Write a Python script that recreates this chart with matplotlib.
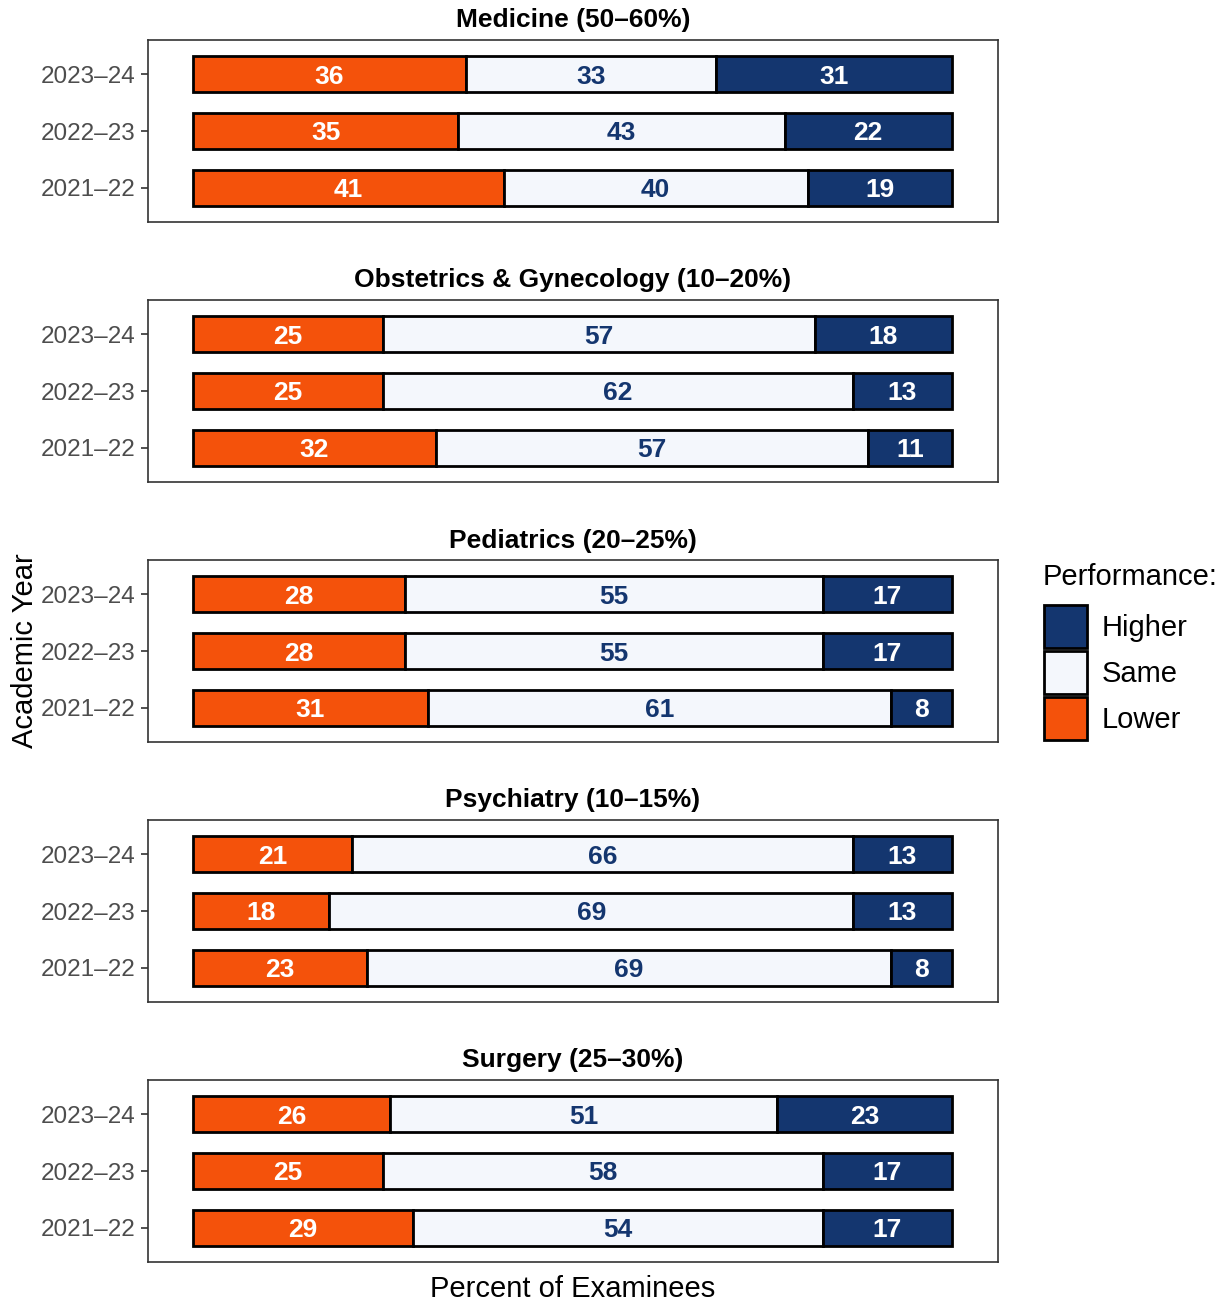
import matplotlib
matplotlib.use("Agg")
import matplotlib.pyplot as plt
from matplotlib.patches import Rectangle

plt.rcParams['font.family'] = ['Liberation Sans', 'DejaVu Sans']

years = ["2021–22", "2022–23", "2023–24"]
panels = ["Medicine (50–60%)", "Obstetrics & Gynecology (10–20%)",
          "Pediatrics (20–25%)", "Psychiatry (10–15%)", "Surgery (25–30%)"]

# values per panel, ordered 2021-22, 2022-23, 2023-24
lower = [[41, 35, 36], [32, 25, 25], [31, 28, 28], [23, 18, 21], [29, 25, 26]]
same = [[40, 43, 33], [57, 62, 57], [61, 55, 55], [69, 69, 66], [54, 58, 51]]
higher = [[19, 22, 31], [11, 13, 18], [8, 17, 17], [8, 13, 13], [17, 17, 23]]

c_low = "#F4520B"
c_same = "#F4F7FC"
c_high = "#14366F"

W, H = 1225, 1302
fig = plt.figure(figsize=(W / 100, H / 100), dpi=100)

for i, title in enumerate(panels):
    top = 40 + 260 * i
    ax = fig.add_axes([148 / W, 1 - (top + 182) / H, 850 / W, 182 / H])
    y = range(1, len(years) + 1)
    lo, sa, hi = lower[i], same[i], higher[i]
    left_sa = lo
    left_hi = [a + b for a, b in zip(lo, sa)]
    kw = dict(height=0.63, edgecolor="black", linewidth=2)
    ax.barh(y, lo, color=c_low, **kw)
    ax.barh(y, sa, left=left_sa, color=c_same, **kw)
    ax.barh(y, hi, left=left_hi, color=c_high, **kw)
    tk = dict(ha="center", va="center_baseline", fontsize=19, fontweight="bold")
    for k in range(len(years)):
        ax.text(lo[k] / 2, k + 1, str(lo[k]), color="white", **tk)
        ax.text(lo[k] + sa[k] / 2, k + 1, str(sa[k]), color=c_high, **tk)
        ax.text(left_hi[k] + hi[k] / 2, k + 1, str(hi[k]), color="white", **tk)
    ax.set_xlim(-5.9, 106.1)
    ax.set_ylim(0.4, 3.6)
    ax.set_yticks(list(y))
    ax.set_yticklabels(years, fontsize=17.5, color="#4d4d4d")
    ax.set_xticks([])
    ax.tick_params(axis="y", length=5, width=1.2, color="#333333", pad=4)
    for s in ax.spines.values():
        s.set_color("#333333")
        s.set_linewidth(1.2)
    ax.set_title(title, fontsize=19, fontweight="bold", color="black", pad=9)

fig.text(25 / W, 1 - 651 / H, "Academic Year", rotation=90, ha="center",
         va="center", fontsize=21)
fig.text(573 / W, 1 - 1289 / H, "Percent of Examinees", ha="center",
         va="center", fontsize=21)

# legend
fig.text(1043 / W, 1 - 577 / H, "Performance:", ha="left", va="center", fontsize=21)
labels = ["Higher", "Same", "Lower"]
cols = [c_high, c_same, c_low]
for j, (lab, col) in enumerate(zip(labels, cols)):
    ytop = 605 + 46 * j
    fig.patches.append(Rectangle((1044 / W, 1 - (ytop + 43) / H), 43 / W, 43 / H,
                                 transform=fig.transFigure, facecolor=col,
                                 edgecolor="black", linewidth=2))
    fig.text(1102 / W, 1 - (ytop + 23) / H, lab, ha="left", va="center", fontsize=21)

fig.savefig("out.png", dpi=100)
